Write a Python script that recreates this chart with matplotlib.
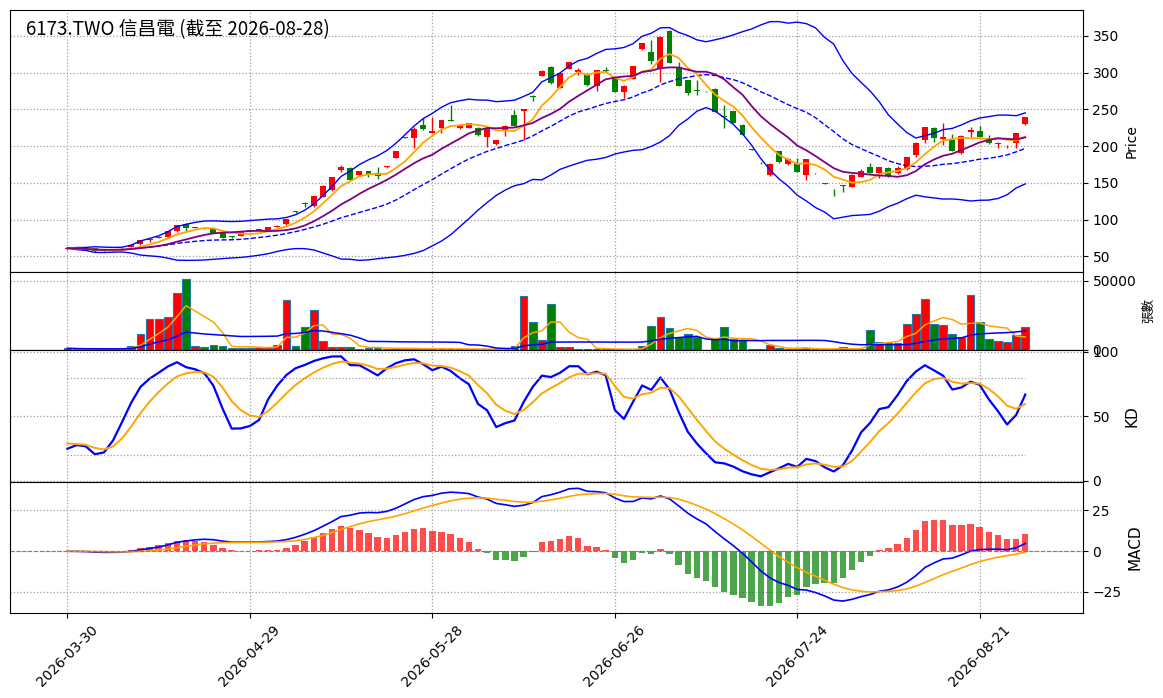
import numpy as np
import pandas as pd
import matplotlib
matplotlib.use("Agg")
import matplotlib.pyplot as plt

# ---------------- data ----------------
holidays = ["2026-04-03", "2026-04-06", "2026-05-01", "2026-06-19"]
dates = [d for d in pd.bdate_range("2026-03-30", "2026-08-28") if d.strftime("%Y-%m-%d") not in holidays]

opens = [60, 61, 60, 61, 58.5, 57.5, 59, 62.5, 66.5, 71.5,
         75, 76, 84, 93.8, 88.5, 88.5, 88, 82, 77, 78,
         85, 86, 84.7, 90.5, 93.4, 110.8, 122, 118, 131, 140,
         168, 170, 160, 166, 164, 171, 184, 212.5, 211, 229,
         218.5, 225, 235.5, 224, 225, 225, 212, 203, 222, 243,
         247.6, 268.5, 296, 308, 279.6, 305.5, 301.5, 298, 282, 304,
         294, 274, 292, 332, 328, 306, 356.8, 308, 290, 276,
         275, 278, 241, 248, 229, 196, 177.5, 160, 193, 175,
         177.5, 160, 163.5, 149, 133.5, 146, 145, 158.6, 171, 164,
         170, 163.6, 168.5, 187.8, 209, 224.3, 209.7, 208.5, 190, 219,
         220.6, 210.7, 202.5, 198.5, 204.7, 229.8]
highs = [62, 62, 61, 61.5, 59, 59.5, 61, 66.5, 72.5, 75,
         78, 85, 93, 95.5, 90, 89, 88.5, 82.5, 78, 84,
         85.5, 87, 89.5, 92, 101, 111, 124, 132.5, 146.5, 158.5,
         174, 172, 166, 166.5, 172, 173.5, 193.5, 213, 226, 238,
         240, 236, 256, 230, 232, 226, 226, 209, 228.5, 249,
         250.5, 270, 303, 309.5, 300, 315, 306.5, 299, 303.5, 308,
         294.5, 283, 309.5, 340.5, 345, 349.5, 357.5, 314, 290.5, 290,
         275.5, 278.5, 256, 248.5, 229.5, 196.5, 178, 176.5, 194, 183.5,
         184.5, 182.5, 164, 149.5, 141, 146.5, 161.5, 169, 176.5, 171.5,
         172, 173.5, 185.5, 205, 226.5, 226, 232, 216, 214.5, 226,
         227, 215.5, 205, 201, 218.5, 240]
lows = [59, 59.5, 58, 56, 57, 57, 58.5, 62, 66, 70,
        74.5, 75.5, 83.5, 83.5, 88, 87.5, 81.5, 75, 75, 77.5,
        84, 85.5, 84.5, 90, 93, 109.5, 117, 117, 130.5, 139.5,
        165, 153.5, 159.5, 158, 155, 170.5, 183.5, 211, 198, 222,
        217.5, 218, 234.5, 223, 224, 214, 199, 201, 214, 227,
        208, 262, 295, 285, 279, 305, 297, 282.5, 275, 300.5,
        273.5, 265, 291.5, 331.5, 312, 288, 313, 281.5, 269, 270,
        274, 246.5, 224, 231.5, 214.5, 194.5, 176, 159, 177.5, 174.5,
        164.5, 154, 162.5, 148, 132.5, 137, 144.5, 158, 163.5, 157,
        157.5, 161.5, 168, 184.6, 204, 205, 202, 193, 189.5, 212,
        212, 203.5, 197, 197, 197.5, 229]
closes = [61, 60, 59, 56.5, 57.5, 59, 60.5, 65.5, 72, 73.5,
          76.5, 84.5, 92.5, 88, 89.3, 88, 82, 75.3, 76.5, 83.4,
          84.5, 86.6, 89.3, 91.2, 100.6, 110.2, 121.5, 132, 146, 158,
          171, 154, 165.5, 160, 159, 173, 193, 211.5, 223, 223.5,
          220, 235, 234.5, 229, 231, 215, 224, 208, 228, 228,
          250, 267.5, 302, 285.6, 299, 314, 303, 283, 303, 302.5,
          274, 282, 309, 340, 316, 349, 313.6, 282, 272, 275,
          274.5, 247, 240, 232, 215, 195, 176.6, 176, 178, 183,
          165, 182, 163, 148.5, 133, 145.7, 161, 166.8, 163.7, 171,
          159, 170, 185, 204.7, 226, 211, 212, 194, 214, 222,
          212.5, 204, 204.7, 199.3, 217.5, 239.3]
volumes = [1200, 800, 700, 900, 800, 700, 900, 3100, 11300, 22100,
           22100, 23600, 40900, 51000, 3100, 1900, 3800, 3100, 1200, 1700,
           1700, 1900, 1900, 3800, 35800, 3100, 16400, 28600, 6500, 2400,
           2400, 2400, 1000, 1200, 1900, 700, 1200, 1000, 1000, 1000,
           800, 800, 700, 700, 600, 600, 700, 600, 500, 2600,
           38700, 20000, 7000, 33000, 1900, 1900, 1000, 1000, 500, 500,
           500, 500, 500, 2600, 17100, 24000, 15600, 9600, 11500, 9600,
           300, 8400, 16800, 7700, 7200, 500, 400, 3400, 1200, 600,
           600, 1700, 500, 500, 500, 1900, 800, 800, 14200, 5800,
           4800, 5300, 18500, 25700, 36600, 18500, 17800, 11300, 9100, 39400,
           20000, 7700, 6500, 5500, 10600, 16800]
k_start, d_start = 25.0, 29.0   # KD values at first bar

title = "6173.TWO 信昌電 (截至 2026-08-28)"

# ---------------- indicators ----------------
df = pd.DataFrame({"Open": opens, "High": highs, "Low": lows, "Close": closes,
                   "Volume": volumes}, index=pd.DatetimeIndex(dates))
c = df["Close"]
ma5 = c.rolling(5, min_periods=1).mean()
ma10 = c.rolling(10, min_periods=1).mean()
mid = c.rolling(20, min_periods=1).mean()
sd = c.rolling(20, min_periods=1).std().fillna(0)
upper = mid + 2 * sd
lower = mid - 2 * sd
vma5 = df["Volume"].rolling(5, min_periods=1).mean()
vma20 = df["Volume"].rolling(20, min_periods=1).mean()

ll = df["Low"].rolling(9, min_periods=1).min()
hh = df["High"].rolling(9, min_periods=1).max()
rsv = ((c - ll) / (hh - ll).replace(0, np.nan) * 100).fillna(50).values
K = np.zeros(len(c)); D = np.zeros(len(c))
K[0], D[0] = k_start, d_start
for i in range(1, len(c)):
    K[i] = 2 / 3 * K[i - 1] + rsv[i] / 3
    D[i] = 2 / 3 * D[i - 1] + K[i] / 3

ema12 = c.ewm(span=12, adjust=False).mean()
ema26 = c.ewm(span=26, adjust=False).mean()
dif = ema12 - ema26
dea = dif.ewm(span=9, adjust=False).mean()
hist = 2 * (dif - dea)

# ---------------- plot ----------------
n = len(df)
x = np.arange(n)
fig = plt.figure(figsize=(11.63, 6.98), dpi=100)
gs = fig.add_gridspec(4, 1, height_ratios=[262, 78, 132, 131], hspace=0,
                      left=0.0086, right=0.931, top=0.9857, bottom=0.1218)
ax1 = fig.add_subplot(gs[0])
ax2 = fig.add_subplot(gs[1], sharex=ax1)
ax3 = fig.add_subplot(gs[2], sharex=ax1)
ax4 = fig.add_subplot(gs[3], sharex=ax1)

grid_kw = dict(linestyle=":", color="#a0a0a0", linewidth=0.9)
for ax in (ax1, ax2, ax3, ax4):
    ax.grid(True, **grid_kw)
    ax.yaxis.tick_right()
    ax.yaxis.set_label_position("right")
    ax.tick_params(labelsize=10)
    ax.set_axisbelow(True)

O = df["Open"].values; C = df["Close"].values
H = df["High"].values; L = df["Low"].values
up = C >= O
cols = np.where(up, "red", "green")
body_bottom = np.minimum(O, C)
body_h = np.maximum(np.abs(C - O), 0.8)
ax1.vlines(x, L, H, colors=cols, linewidth=1)
ax1.bar(x, body_h, bottom=body_bottom, width=0.65, color=cols, linewidth=0)
ax1.plot(x, upper.values, color="blue", linewidth=1)
ax1.plot(x, lower.values, color="blue", linewidth=1)
ax1.plot(x, mid.values, color="blue", linewidth=1, linestyle="--")
ax1.plot(x, ma5.values, color="orange", linewidth=1.3)
ax1.plot(x, ma10.values, color="purple", linewidth=1.3)
ax1.set_ylim(28.6, 385.4)
ax1.set_yticks([50, 100, 150, 200, 250, 300, 350])
ax1.set_ylabel("Price", fontsize=10)
ax1.text(0.015, 0.965, title, transform=ax1.transAxes, ha="left", va="top",
         fontsize=13.5, family=["Noto Sans CJK TC", "DejaVu Sans"])

ax2.bar(x, df["Volume"].values, width=0.85, color=cols, edgecolor="#1f77b4", linewidth=0.8)
ax2.plot(x, vma5.values, color="orange", linewidth=1.1)
ax2.plot(x, vma20.values, color="blue", linewidth=1.1)
ax2.set_ylim(0, 56300)
ax2.set_yticks([0, 50000])
ax2.set_ylabel("張數", fontsize=9, family=["Noto Sans CJK TC", "DejaVu Sans"])

ax3.plot(x, K, color="blue", linewidth=1.6)
ax3.plot(x, D, color="orange", linewidth=1.4)
ax3.plot(x, np.full(n, 80.0), linestyle=":", color="#a0a0a0", linewidth=0.9)
ax3.plot(x, np.full(n, 20.0), linestyle=":", color="#a0a0a0", linewidth=0.9)
ax3.set_ylim(-0.8, 101.5)
ax3.set_yticks([0, 50, 100])
ax3.set_ylabel("KD", fontsize=11)

hcols = np.where(hist.values >= 0, "red", "green")
ax4.bar(x, hist.values, width=0.7, color=hcols, alpha=0.7)
ax4.plot(x, dif.values, color="blue", linewidth=1.2)
ax4.plot(x, dea.values, color="orange", linewidth=1.2)
ax4.axhline(0, color="gray", linestyle="--", linewidth=0.8)
ax4.set_ylim(-37.9, 42.5)
ax4.set_yticks([-25, 0, 25])
ax4.set_ylabel("MACD", fontsize=11)

ax1.set_xlim(-6.3, n - 1 + 6.3)
tick_idx = list(range(0, n, 20))
ax4.set_xticks(tick_idx)
ax4.set_xticklabels([df.index[i].strftime("%Y-%m-%d") for i in tick_idx], rotation=45)
for ax in (ax1, ax2, ax3):
    ax.tick_params(labelbottom=False)

fig.savefig("out.png", dpi=100)
